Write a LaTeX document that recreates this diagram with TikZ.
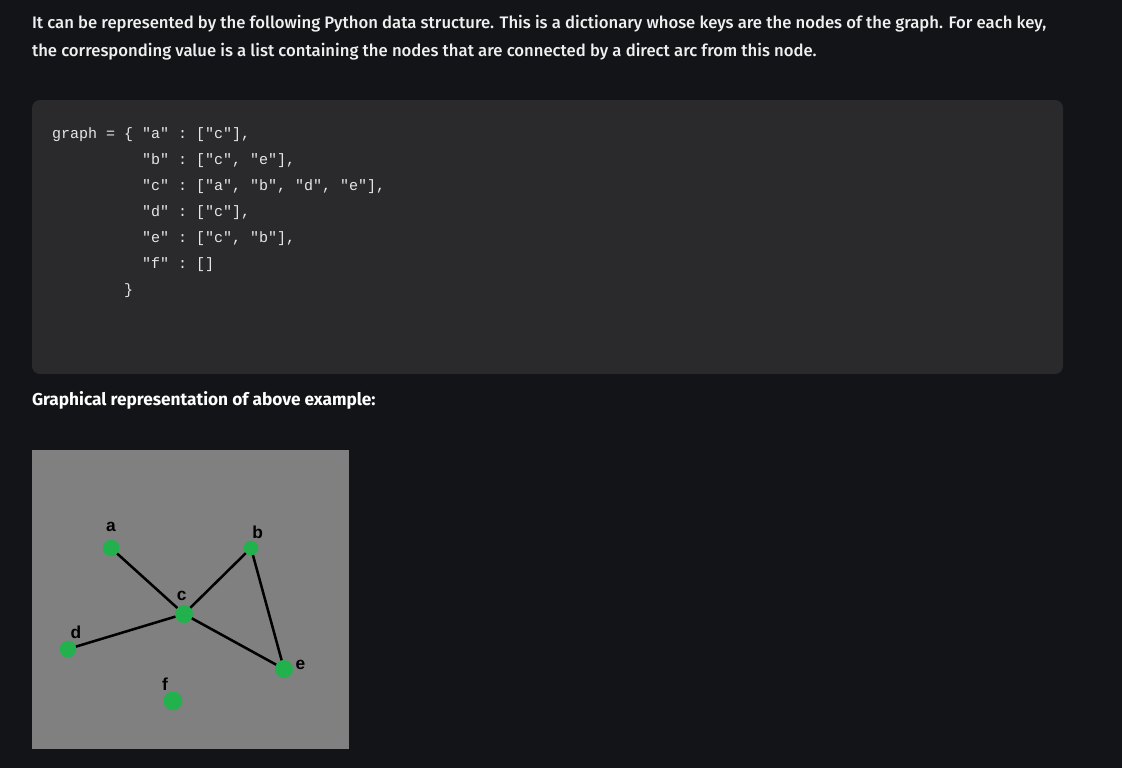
\documentclass[tikz,border=0pt]{standalone}
\usepackage{fontspec}
\setmainfont{Fira Sans}[UprightFont={* Medium}, BoldFont={* Bold}]
\setmonofont{Liberation Mono}
\newfontfamily\labelfont{Liberation Sans}
\usetikzlibrary{positioning}
\definecolor{pagebg}{HTML}{131418}
\definecolor{codebg}{HTML}{2A2A2D}
\definecolor{prosetext}{HTML}{F0F0F0}
\definecolor{codetext}{HTML}{E6E6E6}
\definecolor{plotbg}{HTML}{808080}
\definecolor{vertexgreen}{HTML}{22B14C}

\begin{document}
\begin{tikzpicture}[x=0.75pt, y=-0.75pt,
  every node/.style={inner sep=0pt, outer sep=0pt},
  prose/.style={anchor=base west, text=prosetext,
                font=\fontsize{12.52}{15}\selectfont},
  heading/.style={anchor=base west, text=white,
                  font=\fontsize{12.95}{15}\selectfont\bfseries},
  code/.style={anchor=base west, text=codetext,
               font=\ttfamily\fontsize{11.25}{14}\selectfont},
  vertex/.style={circle, fill=vertexgreen, minimum size=12.5pt},
  vlabel/.style={text=black, font=\labelfont\bfseries\fontsize{13}{15}\selectfont},
  edge/.style={line width=1.9pt, draw=black},
]

% page and panels
\fill[pagebg] (0,0) rectangle (1122,768);
\fill[codebg, rounded corners=6pt] (32,100) rectangle (1063,374);
\fill[plotbg] (32,450) rectangle (349,749);

% intro text
\node[prose] (intro1) at (32,28)
  {It can be represented by the following Python data structure. This is a dictionary whose keys are the nodes of the graph. For each key,};
\node[prose] (intro2) at (32,56)
  {the corresponding value is a list containing the nodes that are connected by a direct arc from this node.};

% code block
\node[code] (ka) at (52,138) {graph = \{ "a" : ["c"],};
\node[code] (kb) at (142,164) {"b" : ["c", "e"],};
\node[code] (kc) at (142,190) {"c" : ["a", "b", "d", "e"],};
\node[code] (kd) at (142,216) {"d" : ["c"],};
\node[code] (ke) at (142,242) {"e" : ["c", "b"],};
\node[code] (kf) at (142,268) {"f" : []};
\node[code] (kend) at (124,294) {\}};

\node[heading] (title) at (32,405) {Graphical representation of above example:};

% graph
\node[vertex] (a) at (111,548) {};
\node[vertex, minimum size=11pt] (b) at (251,548) {};
\node[vertex, minimum size=13.5pt] (c) at (184,614) {};
\node[vertex] (d) at (68,649) {};
\node[vertex, minimum size=13.5pt] (e) at (284,669) {};
\node[vertex, minimum size=14pt] (f) at (173,701) {};

\node[vlabel, above=6pt of a] (la) {a};
\node[vlabel, above=1.5pt of b, xshift=5pt] (lb) {b};
\node[vlabel, above=3pt of c, xshift=-1.7pt] (lc) {c};
\node[vlabel, above right=3.5pt and -2.4pt of d] (ld) {d};
\node[vlabel, right=2pt of e, yshift=3pt] (le) {e};
\node[vlabel, above=1.2pt of f, xshift=-6pt] (lf) {f};

\draw[edge] (a) -- (c);
\draw[edge] (b) -- (c);
\draw[edge] (d) -- (c);
\draw[edge] (e) -- (c);
\draw[edge] (b) -- (e);

\end{tikzpicture}
\end{document}
